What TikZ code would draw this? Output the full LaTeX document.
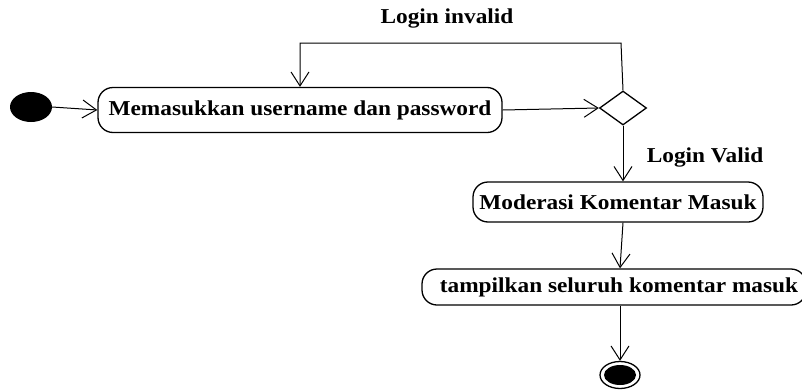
\documentclass[tikz,border=0pt]{standalone}
\usepackage{fontspec}
\setmainfont{Liberation Serif}[FakeStretch=1.1]
\usetikzlibrary{arrows.meta,shapes.geometric}
\begin{document}
\begin{tikzpicture}[x=1pt,y=-1pt,
  act/.style={draw,line width=1.3pt,rounded corners=15pt,inner sep=0pt,font=\fontsize{21.2}{23}\selectfont\bfseries},
  lbl/.style={font=\fontsize{21.2}{23}\selectfont\bfseries,inner sep=0pt},
  arr/.style={line width=1pt,-{Straight Barb[length=14pt,width=18pt,line width=1pt]}},
  ln/.style={line width=1pt}]
\useasboundingbox (0,0) rectangle (802,391);
\node[ellipse,fill=black,minimum width=42pt,minimum height=30pt,inner sep=0pt] (s) at (31,107) {};
\node[act,minimum width=404pt,minimum height=45pt] (b1) at (300,110) {Memasukkan username dan password};
\node[diamond,draw,line width=1.3pt,minimum width=47pt,minimum height=34pt,inner sep=0pt,aspect=1.4] (d) at (623,108) {};
\node[act,minimum width=290pt,minimum height=40pt] (b2) at (618,202) {Moderasi Komentar Masuk};
\node[act,minimum width=384pt,minimum height=36pt] (b3) at (614,287) {\hspace*{10pt}tampilkan seluruh komentar masuk};
\node[ellipse,draw,line width=1.3pt,minimum width=40pt,minimum height=27pt,inner sep=0pt] (f) at (620,375) {};
\node[ellipse,fill=black,minimum width=32pt,minimum height=20pt,inner sep=0pt] (fi) at (620,375) {};
\node[lbl] (li) at (447,18) {Login invalid};
\node[lbl] (lv) at (705,157) {Login Valid};
\coordinate (rt) at (621,43);
\coordinate (lt) at (300,43);
\draw[arr] (s.east) -- (b1.west);
\draw[arr] (b1.east) -- (d.west);
\draw[arr] (d.north) -- (rt) -- (lt) -- (lt |- b1.north);
\draw[arr] (d.south) -- (b2.north -| d.south);
\draw[arr] (b2.south -| d.south) -- (b3.north -| f.north);
\draw[arr] (b3.south -| f.north) -- (f.north);
\end{tikzpicture}
\end{document}
